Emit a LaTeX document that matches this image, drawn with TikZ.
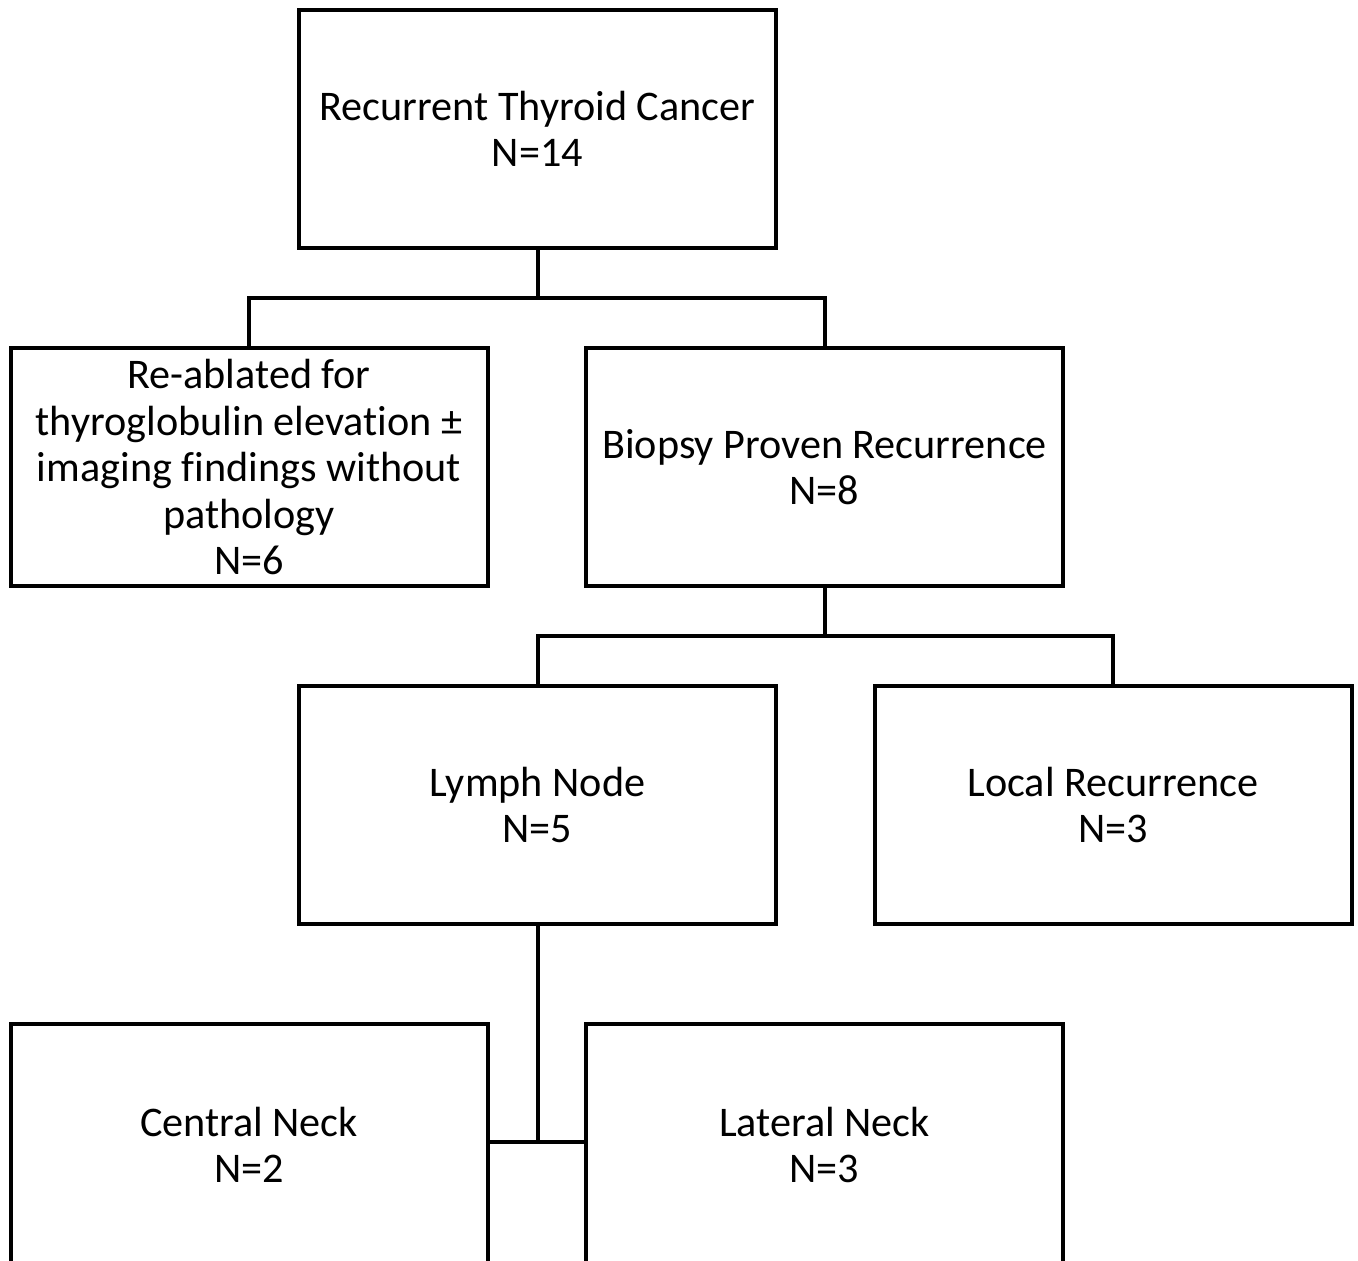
\documentclass[tikz,border=0pt]{standalone}
\usepackage{fontspec}
\setmainfont[Ligatures=NoCommon]{Carlito}
\begin{document}
\begin{tikzpicture}[x=1pt,y=-1pt,
  box/.style={draw=black,line width=4pt,minimum width=477pt,minimum height=238pt,
    align=center,inner sep=0pt,font=\fontsize{42.2}{46.5}\selectfont},
  conn/.style={draw=black,line width=4pt}]
\useasboundingbox (0,0) rectangle (1358,1261);
\clip (0,0) rectangle (1358,1261);
\node[box] (top) at (537.5,129) {Recurrent Thyroid Cancer\\N=14};
\node[box] (rea) at (249,467) {Re-ablated for\\thyroglobulin elevation ±\\imaging findings without\\pathology\\N=6};
\node[box] (bio) at (824.5,467) {Biopsy Proven Recurrence\\N=8};
\node[box] (lym) at (537.5,805) {Lymph Node\\N=5};
\node[box] (loc) at (1113,805) {Local Recurrence\\N=3};
\node[box,minimum height=242pt] (cen) at (249,1145) {Central Neck\\N=2};
\node[box,minimum height=242pt] (lat) at (824.5,1145) {Lateral Neck\\N=3};
\coordinate (j1) at (537.5,298);
\coordinate (j2) at (824.5,636);
\coordinate (j3) at (537.5,1142);
\draw[conn] (top.south) -- (j1);
\draw[conn] (rea.north) |- (j1) -| (bio.north);
\draw[conn] (bio.south) -- (j2);
\draw[conn] (lym.north) |- (j2) -| (loc.north);
\draw[conn] (lym.south) -- (j3);
\draw[conn] (cen.east |- j3) -- (lat.west |- j3);
\end{tikzpicture}
\end{document}
